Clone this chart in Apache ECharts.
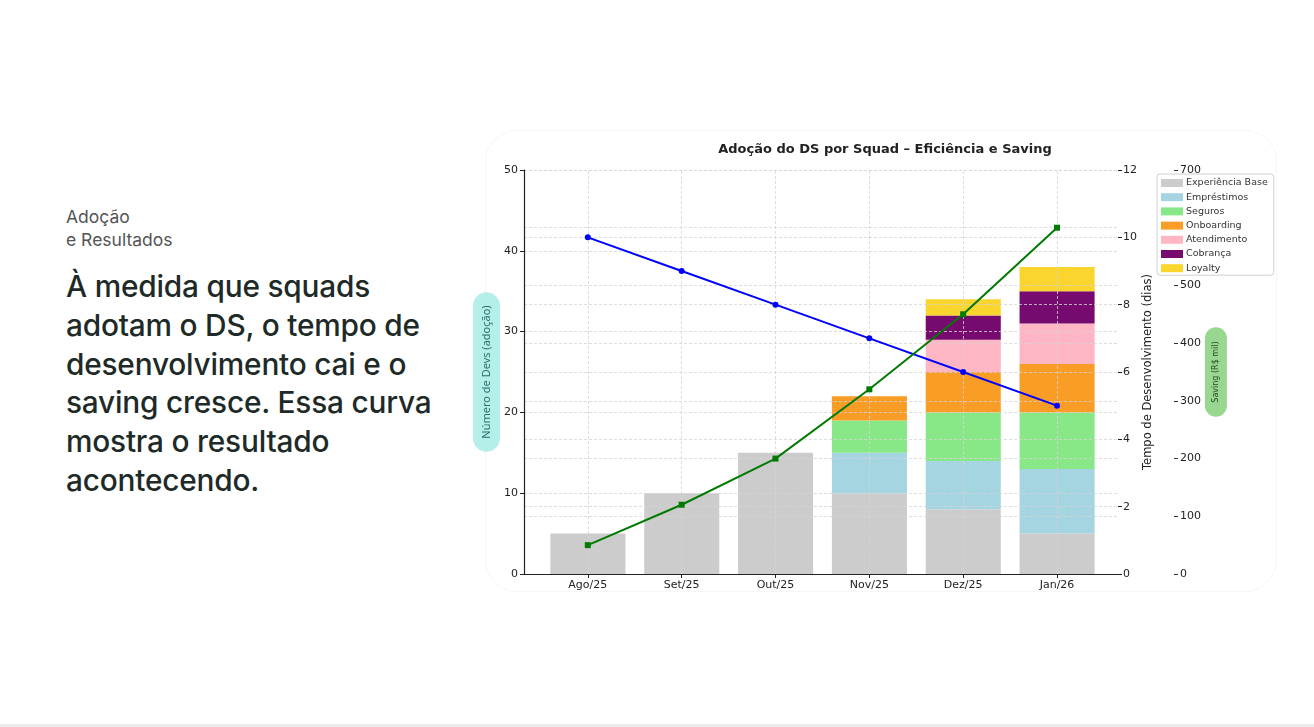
<!DOCTYPE html>
<html>
<head>
<meta charset="utf-8">
<script src="https://cdn.jsdelivr.net/npm/echarts@6/dist/echarts.min.js"></script>
<style>
  html, body { margin:0; padding:0; background:#fff; width:1314px; height:727px; overflow:hidden; }
  #side { position:absolute; left:66px; top:205px; font-family:Inter, "Open Sans", sans-serif; }
  #kicker { font-size:17.5px; line-height:23px; color:#555; }
  #head { margin-top:16px; font-size:29.8px; line-height:38.8px; color:#1e2a28; font-weight:500; letter-spacing:-0.2px; }
  #card { position:absolute; left:485px; top:130px; width:790px; height:460px; border-radius:32px; border:1px solid #f6f6f6; }
  #bottomline { position:absolute; left:0; top:724px; width:1314px; height:3px; background:#ececec; }
  #chart { position:absolute; left:0; top:0; width:1314px; height:727px; }
</style>
</head>
<body>
<div id="card"></div>
<div id="side">
  <div id="kicker">Adoção<br>e Resultados</div>
  <div id="head">À medida que squads<br>adotam o DS, o tempo de<br>desenvolvimento cai e o<br>saving cresce. Essa curva<br>mostra o resultado<br>acontecendo.</div>
</div>
<div id="bottomline"></div>
<div id="chart"></div>
<script>
const categories = ['Ago/25', 'Set/25', 'Out/25', 'Nov/25', 'Dez/25', 'Jan/26'];
const experienciaBase = [5, 10, 15, 10, 8, 5];
const emprestimos   = [0, 0, 0, 5, 6, 8];
const seguros       = [0, 0, 0, 4, 6, 7];
const onboarding    = [0, 0, 0, 3, 5, 6];
const atendimento   = [0, 0, 0, 0, 4, 5];
const cobranca      = [0, 0, 0, 0, 3, 4];
const loyalty       = [0, 0, 0, 0, 2, 3];
const tempoDias     = [10, 9, 8, 7, 6, 5];
const savingMil     = [50, 120, 200, 320, 450, 600];

const squads = [
  { name: 'Experiência Base', data: experienciaBase, color: '#cccccc' },
  { name: 'Empréstimos', data: emprestimos, color: '#a6d5e2' },
  { name: 'Seguros', data: seguros, color: '#88e888' },
  { name: 'Onboarding', data: onboarding, color: '#f99d26' },
  { name: 'Atendimento', data: atendimento, color: '#ffb6c4' },
  { name: 'Cobrança', data: cobranca, color: '#760a6e' },
  { name: 'Loyalty', data: loyalty, color: '#fad52e' }
];

const F = 'DejaVu Sans';
const gridLine = { show: true, lineStyle: { color: '#d4d4d4', type: [3, 2], width: 0.8 } };

const idx = categories.map((c, i) => i);
const toXY = arr => arr.map((v, i) => [i, v]);

// bars live in grid 1 (category bands aligned with the value axis of grid 0)
const series = squads.map(s => ({
  name: s.name, type: 'bar', stack: 'devs', xAxisIndex: 1, yAxisIndex: 3,
  barWidth: '80%', itemStyle: { color: s.color }, data: s.data.map(v => v === 0 ? null : v), z: 1
}));

series.push({
  name: 'vgrid', type: 'line', xAxisIndex: 0, yAxisIndex: 0, data: [], silent: true, z: 3,
  markLine: { symbol: 'none', silent: true, label: { show: false },
    lineStyle: { color: '#d4d4d4', type: [3, 2], width: 0.8 },
    data: idx.map(i => ({ xAxis: i })) }
});
series.push({
  name: 'Tempo', type: 'line', xAxisIndex: 0, yAxisIndex: 1, data: toXY(tempoDias),
  symbol: 'circle', symbolSize: 6, lineStyle: { color: '#0000ff', width: 2 },
  itemStyle: { color: '#0000ff' }, z: 5
});
series.push({
  name: 'Saving', type: 'line', xAxisIndex: 0, yAxisIndex: 2, data: toXY(savingMil),
  symbol: 'rect', symbolSize: 6, lineStyle: { color: '#007a00', width: 2 },
  itemStyle: { color: '#007a00' }, z: 5
});

const chart = echarts.init(document.getElementById('chart'));
chart.setOption({
  animation: false,
  textStyle: { fontFamily: F },
  title: {
    text: 'Adoção do DS por Squad – Eficiência e Saving',
    left: 880, top: 138, textAlign: 'center',
    textStyle: { fontFamily: F, fontSize: 13, fontWeight: 'bold', color: '#222' }
  },
  legend: {
    data: squads.map(s => s.name),
    orient: 'vertical', left: 1157, top: 174,
    itemWidth: 22, itemHeight: 8, itemGap: 4.2, icon: 'rect',
    padding: [4, 6, 2, 4],
    borderColor: '#d0d0d0', borderWidth: 1, borderRadius: 3, backgroundColor: '#fff',
    textStyle: { fontFamily: F, fontSize: 9.5, color: '#333', padding: [0, 0, 0, -2] },
    itemStyle: { borderWidth: 0 },
    z: 10
  },
  grid: [
    { left: 524, right: 196, top: 170, bottom: 153 },
    { left: 541, right: 210, top: 170, bottom: 153 }
  ],
  xAxis: [{
    gridIndex: 0, type: 'value', min: -0.68, max: 5.65, z: 3,
    axisLine: { show: true, onZero: false, lineStyle: { color: '#222', width: 1.2 } },
    axisTick: { show: true, customValues: idx, length: 4, lineStyle: { color: '#222' } },
    axisLabel: { customValues: idx, formatter: v => categories[Math.round(v)], fontFamily: F, fontSize: 11, color: '#222', margin: 6 },
    splitLine: { show: false }
  }, {
    gridIndex: 1, type: 'category', data: categories, show: false, boundaryGap: true
  }],
  yAxis: [{
    gridIndex: 0, type: 'value', min: 0, max: 50, interval: 10, position: 'left', z: 3,
    axisLine: { show: true, onZero: false, lineStyle: { color: '#222', width: 1.2 } },
    axisTick: { show: true, length: 4, lineStyle: { color: '#222' } },
    axisLabel: { fontFamily: F, fontSize: 11, color: '#222', margin: 6 },
    splitLine: gridLine,
    name: 'Número de Devs (adoção)', nameLocation: 'middle', nameRotate: 90, nameGap: 24,
    nameTextStyle: { fontFamily: 'Noto Sans', fontSize: 11, color: '#2b6f6c', backgroundColor: '#b4efea',
      padding: [8, 13, 8, 13], borderRadius: 15 }
  }, {
    gridIndex: 0, type: 'value', min: 0, max: 12, interval: 2, position: 'right', z: 3,
    axisLine: { show: false, onZero: false },
    axisTick: { show: true, length: 4, lineStyle: { color: '#222' } },
    axisLabel: { fontFamily: F, fontSize: 11, color: '#222', margin: 5 },
    splitLine: gridLine,
    name: 'Tempo de Desenvolvimento (dias)', nameLocation: 'middle', nameRotate: 90, nameGap: 24,
    nameTextStyle: { fontFamily: F, fontSize: 11.5, color: '#222' }
  }, {
    gridIndex: 0, type: 'value', min: 0, max: 700, interval: 100, position: 'right', offset: 56, z: 3,
    axisLine: { show: false, onZero: false },
    axisTick: { show: true, length: 4, lineStyle: { color: '#333' } },
    axisLabel: { fontFamily: F, fontSize: 11, color: '#222', margin: 6 },
    splitLine: gridLine,
    name: 'Saving (R$ mil)', nameLocation: 'middle', nameRotate: 90, nameGap: 30,
    nameTextStyle: { fontFamily: F, fontSize: 8, color: '#1d4f1d', backgroundColor: '#99d791',
      padding: [7, 14, 7, 14], borderRadius: 12 }
  }, {
    gridIndex: 1, type: 'value', min: 0, max: 50, show: false, splitLine: { show: false }
  }],
  series: series
});
</script>
</body>
</html>
